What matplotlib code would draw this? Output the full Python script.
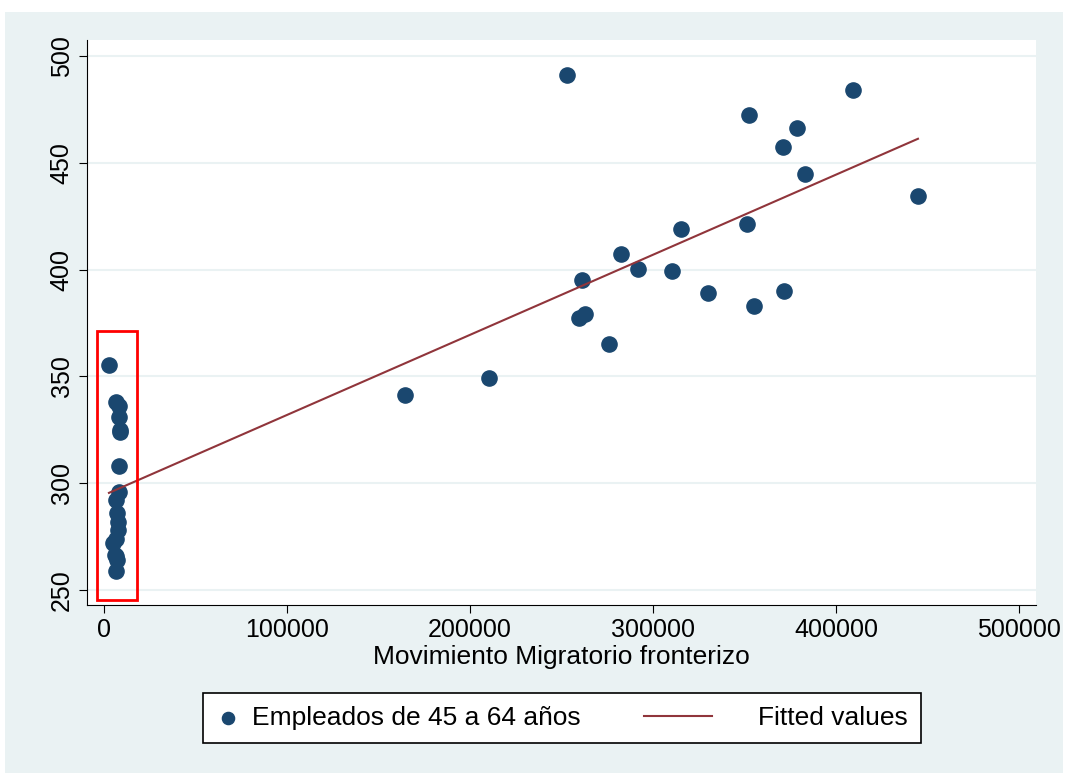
import numpy as np
import matplotlib
matplotlib.use("Agg")
import matplotlib.pyplot as plt
from matplotlib.patches import Rectangle
from matplotlib.lines import Line2D
from matplotlib.legend_handler import HandlerBase

# data
migr = [253000, 409300, 352500, 378700, 371000, 383100, 444800, 351400, 315300,
        282500, 261200, 291800, 310400, 330100, 371600, 355200, 259600, 262800,
        276000, 210400, 164500,
        2700, 6600, 8200, 8300, 8800, 8600, 8200, 8000, 6700, 7300, 7800,
        7600, 6600, 5000, 6300, 7000, 6200, 6600]
empl = [491.1, 484.1, 472.4, 466.3, 457.4, 444.8, 434.5, 421.3, 419.0,
        407.3, 395.1, 400.3, 399.3, 389.0, 390.0, 383.0, 377.3, 379.2,
        365.2, 349.3, 341.3,
        355.3, 338.0, 336.0, 331.0, 325.0, 324.0, 308.0, 296.0, 292.0, 286.0, 282.0,
        278.0, 274.0, 272.0, 266.0, 264.0, 266.5, 259.0]
xticks = [0, 100000, 200000, 300000, 400000, 500000]
yticks = [250, 300, 350, 400, 450, 500]

navy = '#1a476f'
maroon = '#90353b'
bg = '#eaf2f3'


class LongLine(HandlerBase):
    # legend key line drawn longer, to the left of the short handle box
    def create_artists(self, legend, orig, xdescent, ydescent, width, height, fontsize, trans):
        yy = (height - ydescent) / 2
        ln = Line2D([-3.0*fontsize, -0.42*fontsize], [yy, yy], color=orig.get_color(),
                    lw=orig.get_linewidth(), transform=trans)
        return [ln]


plt.rcParams['font.family'] = ['Liberation Sans', 'DejaVu Sans']

fig = plt.figure(figsize=(10.65, 7.73), dpi=100)
fig.patches.append(Rectangle((5/1065, 0), 1058/1065, 1-12/773, transform=fig.transFigure,
                             facecolor=bg, edgecolor='none', zorder=-5))
ax = fig.add_axes([87/1065, 1-605/773, (1036-87)/1065, (605-40)/773])
ax.set_facecolor('white')

x = np.array(migr)
y = np.array(empl)
b, a = np.polyfit(x, y, 1)
xl = np.array([x.min(), x.max()])

for t in yticks:
    ax.axhline(t, color=bg, lw=1.5, zorder=0)

pts = ax.scatter(x, y, s=120, color=navy, zorder=3, label='Empleados de 45 a 64 años')
fit, = ax.plot(xl, a + b*xl, color=maroon, lw=1.5, zorder=4, label='Fitted values')

ax.add_patch(Rectangle((-3800, 245.3), 21800, 126, fill=False, edgecolor='red', lw=2, zorder=5))

ax.set_xlim(-9300, 509300)
ax.set_ylim(243, 507.5)
ax.set_xticks(xticks)
ax.set_yticks(yticks)
ax.tick_params(labelsize=18, length=6, direction='out')
for lab in ax.get_yticklabels():
    lab.set_rotation(90)
    lab.set_va('center')
ax.spines['top'].set_visible(False)
ax.spines['right'].set_visible(False)
ax.set_xlabel('Movimiento Migratorio fronterizo', fontsize=19, labelpad=2)

leg = fig.legend([pts, fit], ['Empleados de 45 a 64 años', 'Fitted values'],
                 handler_map={fit: LongLine()},
                 loc='center', bbox_to_anchor=(562/1065, 1-718/773), ncol=2, fontsize=19,
                 frameon=True, fancybox=False, edgecolor='black', facecolor='white',
                 framealpha=1, columnspacing=5.4, handlelength=0.9, handletextpad=0.45,
                 markerscale=0.8, borderpad=0.5)
leg.get_frame().set_linewidth(1.2)

fig.savefig('out.png', dpi=100, facecolor='white')
